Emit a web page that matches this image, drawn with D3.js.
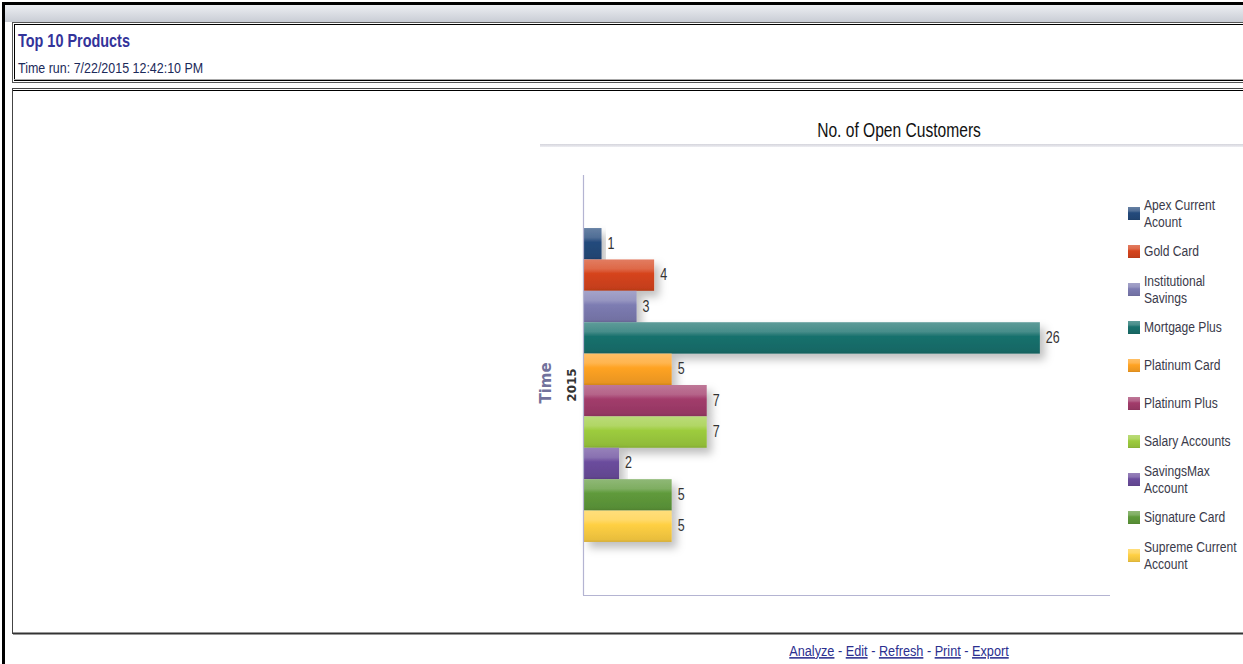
<!DOCTYPE html>
<html>
<head>
<meta charset="utf-8">
<script src="https://cdn.jsdelivr.net/npm/d3@7"></script>
<style>
  html, body { margin: 0; padding: 0; background: #fff; }
  svg { display: block; }
</style>
</head>
<body>
<svg id="page" width="1243" height="664"></svg>
<script>
// Products and their open-customer counts for 2015
const products = [
  "Apex Current Acount", "Gold Card", "Institutional Savings", "Mortgage Plus",
  "Platinum Card", "Platinum Plus", "Salary Accounts", "SavingsMax Account",
  "Signature Card", "Supreme Current Account"
];
const openCustomers = [1, 4, 3, 26, 5, 7, 7, 2, 5, 5];
const legendLines = [
  ["Apex Current", "Acount"], ["Gold Card"], ["Institutional", "Savings"], ["Mortgage Plus"],
  ["Platinum Card"], ["Platinum Plus"], ["Salary Accounts"], ["SavingsMax", "Account"],
  ["Signature Card"], ["Supreme Current", "Account"]
];
const productColors = [
  "#244a7c", "#d6441c", "#7d7cb2", "#19716d", "#ffa323",
  "#a23c6b", "#9dcc3e", "#6b4d9d", "#5f9a3b", "#ffd043"
];
const yearLabel = "2015";
const xDomain = [0, 30];

const SANS = "'Liberation Sans', Arial, sans-serif";
const svg = d3.select("#page");
const defs = svg.append("defs");

// Narrow text: a regular sans face squeezed horizontally
function narrowText(parent, x, y, sx) {
  return parent.append("g").attr("transform", `translate(${x},${y}) scale(${sx},1)`)
    .append("text").attr("x", 0).attr("y", 0).attr("font-family", SANS);
}

// --- page chrome -------------------------------------------------------
const band = defs.append("linearGradient").attr("id", "topband").attr("x1", 0).attr("y1", 0).attr("x2", 0).attr("y2", 1);
band.append("stop").attr("offset", "0%").attr("stop-color", "#eceef2");
band.append("stop").attr("offset", "100%").attr("stop-color", "#c9cdd5");
svg.append("rect").attr("x", 4).attr("y", 5).attr("width", 1243).attr("height", 17).attr("fill", "url(#topband)");
svg.append("rect").attr("x", 2).attr("y", 2).attr("width", 1243).attr("height", 3).attr("fill", "#000");
svg.append("rect").attr("x", 2).attr("y", 2).attr("width", 3).attr("height", 664).attr("fill", "#000");

// header box (double border)
svg.append("rect").attr("x", 12.5).attr("y", 22.5).attr("width", 1240).attr("height", 60).attr("fill", "#fff").attr("stroke", "#555").attr("stroke-width", 1);
svg.append("rect").attr("x", 14.5).attr("y", 24.5).attr("width", 1240).attr("height", 56).attr("fill", "none").attr("stroke", "#000").attr("stroke-width", 1);
svg.append("line").attr("x1", 14).attr("x2", 1243).attr("y1", 79.5).attr("y2", 79.5).attr("stroke", "#aaa");

narrowText(svg, 18, 47, 0.78).attr("font-weight", "bold").attr("font-size", 18.5)
  .attr("fill", "#33339a").text("Top 10 Products");
narrowText(svg, 18, 73, 0.86).attr("font-size", 14.5)
  .attr("fill", "#1b2a5a").text("Time run: 7/22/2015 12:42:10 PM");

// content box
svg.append("rect").attr("x", 12.5).attr("y", 88.5).attr("width", 1240).attr("height", 545).attr("fill", "#fff").attr("stroke", "#444").attr("stroke-width", 1);
svg.append("line").attr("x1", 13).attr("x2", 1243).attr("y1", 90.5).attr("y2", 90.5).attr("stroke", "#000");
svg.append("line").attr("x1", 13).attr("x2", 1243).attr("y1", 633.5).attr("y2", 633.5).attr("stroke", "#333").attr("stroke-width", 2);

// footer links
const links = ["Analyze", "Edit", "Refresh", "Print", "Export"];
const footer = narrowText(svg, 899, 656, 0.82).attr("text-anchor", "middle")
  .attr("font-size", 15.5).attr("fill", "#2b2f8f");
links.forEach((l, i) => {
  if (i > 0) footer.append("tspan").text(" - ");
  footer.append("tspan").attr("text-decoration", "underline").text(l);
});

// --- chart ---------------------------------------------------------------
narrowText(svg, 899, 137, 0.78).attr("text-anchor", "middle")
  .attr("font-size", 20).attr("fill", "#111").text("No. of Open Customers");
const sep = defs.append("linearGradient").attr("id", "sep").attr("x1", 0).attr("y1", 0).attr("x2", 0).attr("y2", 1);
sep.append("stop").attr("offset", "0%").attr("stop-color", "#d4d4dc");
sep.append("stop").attr("offset", "100%").attr("stop-color", "#eeeef2");
svg.append("rect").attr("x", 540).attr("y", 144).attr("width", 703).attr("height", 3).attr("fill", "url(#sep)");

const plot = { left: 584, right: 1110, top: 175, bottom: 595 };
const x = d3.scaleLinear().domain(xDomain).range([plot.left, plot.right]);
const group = d3.scaleBand().domain([yearLabel]).range([plot.top, plot.bottom]).paddingInner(0).paddingOuter(0.169);
const y = d3.scaleBand().domain(products).range([group(yearLabel), group(yearLabel) + group.bandwidth()]).padding(0);

// bar shading + shadow
const shadow = defs.append("filter").attr("id", "shadow").attr("x", "-10%").attr("y", "-40%").attr("width", "135%").attr("height", "220%");
shadow.append("feDropShadow").attr("dx", 5).attr("dy", 6).attr("stdDeviation", 4.5)
  .attr("flood-color", "#000").attr("flood-opacity", 0.25);

productColors.forEach((c, i) => {
  const base = d3.color(c);
  const g = defs.append("linearGradient").attr("id", "bar" + i).attr("x1", 0).attr("y1", 0).attr("x2", 0).attr("y2", 1);
  g.append("stop").attr("offset", "0%").attr("stop-color", d3.interpolateRgb(c, "#fff")(0.3));
  g.append("stop").attr("offset", "30%").attr("stop-color", d3.interpolateRgb(c, "#fff")(0.2));
  g.append("stop").attr("offset", "45%").attr("stop-color", c);
  g.append("stop").attr("offset", "92%").attr("stop-color", base.darker(0.25));
  g.append("stop").attr("offset", "100%").attr("stop-color", base.darker(0.5));
});

const bars = svg.append("g");
bars.selectAll("rect").data(products).join("rect")
  .attr("x", x(0))
  .attr("y", d => y(d))
  .attr("width", (d, i) => x(openCustomers[i]) - x(0))
  .attr("height", y.bandwidth())
  .attr("fill", (d, i) => `url(#bar${i})`)
  .attr("filter", "url(#shadow)");

const valueLabels = svg.append("g");
products.forEach((p, i) => {
  narrowText(valueLabels, x(openCustomers[i]) + 6, y(p) + y.bandwidth() / 2 + 5, 0.78)
    .attr("font-size", 16).attr("fill", "#333").text(openCustomers[i]);
});

// axes lines
const axisColor = "#b4b4d2";
svg.append("line").attr("x1", plot.left - 0.5).attr("x2", plot.left - 0.5).attr("y1", plot.top).attr("y2", plot.bottom)
  .attr("stroke", axisColor).attr("stroke-width", 1.2);
svg.append("line").attr("x1", plot.left - 1).attr("x2", plot.right).attr("y1", plot.bottom + 0.5).attr("y2", plot.bottom + 0.5)
  .attr("stroke", axisColor).attr("stroke-width", 1.2);

// y labels
const midY = group(yearLabel) + group.bandwidth() / 2;
svg.append("text").attr("transform", `translate(551,${midY - 2}) rotate(-90)`).attr("text-anchor", "middle")
  .attr("font-family", "'DejaVu Sans', sans-serif").attr("font-weight", "bold").attr("font-size", 15)
  .attr("fill", "#72729c").text("Time");
svg.append("text").attr("transform", `translate(576,${midY}) rotate(-90)`).attr("text-anchor", "middle")
  .attr("font-family", "'DejaVu Sans', sans-serif").attr("font-weight", "bold").attr("font-size", 12)
  .attr("fill", "#333").text(yearLabel);

// legend
const legend = svg.append("g");
const item = d3.scaleLinear().domain([0, products.length - 1]).range([213, 555]);
products.forEach((p, i) => {
  const cy = item(i);
  legend.append("rect").attr("x", 1128).attr("y", cy - 6).attr("width", 12).attr("height", 13)
    .attr("fill", `url(#bar${i})`);
  const lines = legendLines[i];
  const t = narrowText(legend, 1144, cy + 5, 0.78).attr("font-size", 15.5).attr("fill", "#3a3a4a");
  lines.forEach((ln, k) => {
    t.append("tspan").attr("x", 0)
      .attr("y", (k - (lines.length - 1) / 2) * 17)
      .text(ln);
  });
});
</script>
</body>
</html>
